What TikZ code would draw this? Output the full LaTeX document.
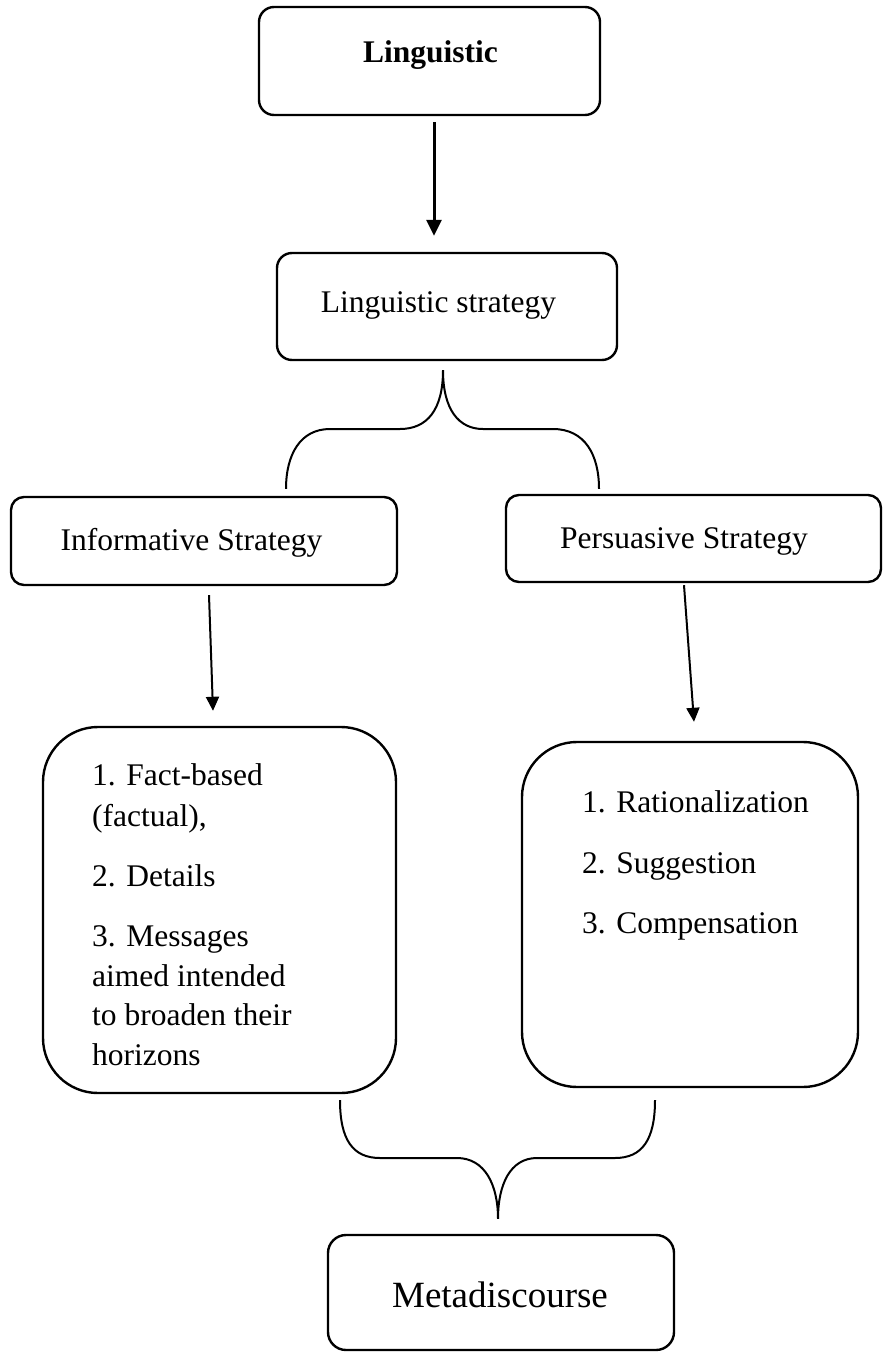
\documentclass[tikz,border=0pt]{standalone}
\usepackage{fontspec}
\setmainfont{Liberation Serif}
\usetikzlibrary{arrows.meta}
\begin{document}
\begin{tikzpicture}[x=1pt,y=-1pt,
  boxstyle/.style={draw, line width=2.4pt, rounded corners=15pt, inner sep=0pt},
  listbox/.style={draw, line width=2.4pt, rounded corners=55pt, inner sep=0pt},
  txt/.style={font=\fontsize{31.5}{38}\selectfont, inner sep=0pt, anchor=base},
  ltxt/.style={font=\fontsize{31.5}{38}\selectfont, inner sep=0pt, anchor=base west},
  bigarrow/.style={line width=3pt, -{Triangle[length=16pt,width=15pt]}},
  smallarrow/.style={line width=2pt, -{Triangle[length=14pt,width=13pt]}},
  bracestyle/.style={line width=2pt}]
\useasboundingbox (0,0) rectangle (883,1352);

% boxes
\node[boxstyle, minimum width=341pt, minimum height=108pt] (b1) at (429.5,61) {};
\node[boxstyle, minimum width=340pt, minimum height=107pt] (b2) at (447,306.5) {};
\node[boxstyle, rounded corners=13pt, minimum width=386pt, minimum height=88pt] (b3) at (204,541) {};
\node[boxstyle, rounded corners=13pt, minimum width=375pt, minimum height=87pt] (b4) at (693.5,538.5) {};
\node[listbox, minimum width=353pt, minimum height=366pt] (b5) at (219.5,910) {};
\node[listbox, minimum width=336pt, minimum height=345pt] (b6) at (690,914.5) {};
\node[boxstyle, rounded corners=18pt, minimum width=346pt, minimum height=115pt] (b7) at (501,1292.5) {};

% texts
\node[txt, font=\fontsize{31.5}{38}\selectfont\bfseries] (t1) at (430.5,62) {Linguistic};
\node[txt] (t2) at (438.5,312) {Linguistic strategy};
\node[txt] (t3) at (191.5,550) {Informative Strategy};
\node[txt] (t4) at (684,548) {Persuasive Strategy};
\node[ltxt] (l1) at (92,785) {1. Fact-based};
\node[ltxt] (l2) at (92,826) {(factual),};
\node[ltxt] (l3) at (92,886) {2. Details};
\node[ltxt] (l4) at (92,946) {3. Messages};
\node[ltxt] (l5) at (92,986) {aimed intended};
\node[ltxt] (l6) at (92,1025) {to broaden their};
\node[ltxt] (l7) at (92,1065) {horizons};
\node[ltxt] (r1) at (582,812) {1. Rationalization};
\node[ltxt] (r2) at (582,873) {2. Suggestion};
\node[ltxt] (r3) at (582,933) {3. Compensation};
\node[txt, font=\fontsize{37}{44}\selectfont] (t7) at (500,1307) {Metadiscourse};

% arrows
\draw[bigarrow] ([xshift=4.5pt,yshift=-6pt]b1.south) -- ([xshift=-13pt,yshift=16pt]b2.north);
\draw[smallarrow] ([xshift=5pt,yshift=-9pt]b3.south) -- ([xshift=-6.5pt,yshift=15pt]b5.north);
\draw[smallarrow] ([xshift=-9.5pt,yshift=-2pt]b4.south) -- ([xshift=4pt,yshift=19pt]b6.north);

% upper brace
\coordinate (tip1) at ([xshift=-4pt,yshift=-9pt]b2.south);
\coordinate (le1) at ([xshift=82pt,yshift=7pt]b3.north);
\coordinate (re1) at ([xshift=-94.5pt,yshift=5pt]b4.north);
\draw[bracestyle] (le1) .. controls (286,455) and (300,429) .. (330,429) -- (400,429)
   .. controls (427,429) and (443,410) .. (tip1)
   .. controls (443,410) and (459,429) .. (483,429) -- (553,429)
   .. controls (585,429) and (599,455) .. (re1);

% lower brace
\coordinate (tip2) at ([xshift=-3pt,yshift=15pt]b7.north);
\coordinate (le2) at ([xshift=120.5pt,yshift=-6pt]b5.south);
\coordinate (re2) at ([xshift=-35pt,yshift=-12pt]b6.south);
\draw[bracestyle] (le2) .. controls (340,1140) and (353,1158) .. (380,1158) -- (457,1158)
   .. controls (485,1158) and (498,1185) .. (tip2)
   .. controls (498,1185) and (510,1158) .. (537,1158) -- (615,1158)
   .. controls (642,1158) and (655,1140) .. (re2);
\end{tikzpicture}
\end{document}
